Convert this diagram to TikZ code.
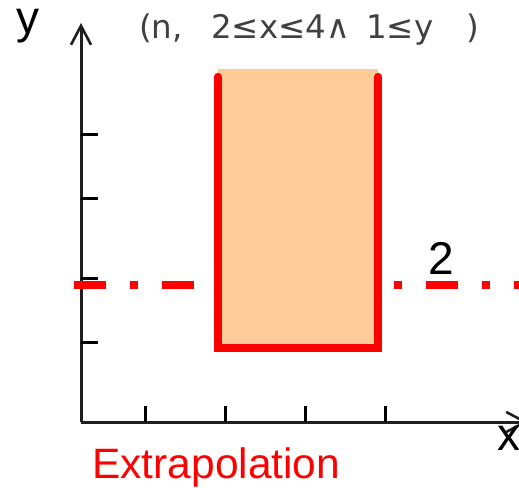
\documentclass[tikz,border=0pt]{standalone}
\usepackage{fontspec}
\setmainfont{Liberation Sans}
\newfontfamily\djv{DejaVu Sans}
\usetikzlibrary{arrows.meta}
\definecolor{peach}{RGB}{255,204,153}
\definecolor{txtgray}{RGB}{64,64,64}
\begin{document}
\begin{tikzpicture}[x=1pt,y=-1pt,
  axis/.style={line width=3pt, black!88, -{Straight Barb[length=19pt,width=20pt,line width=2.6pt]}},
  tickmark/.style={line width=3pt, black},
  redline/.style={red, line width=8pt},
  dashdotline/.style={red, line width=8pt, dash pattern=on 32pt off 24pt on 8pt off 24pt},
  lbl/.style={inner sep=0pt, anchor=base west, font=\fontsize{46}{50}\selectfont},
]
\useasboundingbox (0,0) rectangle (519,487);
\clip (0,0) rectangle (519,487);
% axes
\coordinate (O) at (81,422);
\coordinate (ytip) at (81,23);
\coordinate (xtip) at (528,422);
\draw[axis] (O) -- (ytip);
\draw[axis] (O) -- (xtip);
% ticks
\foreach \yy [count=\i] in {134,198,278,342} {
  \coordinate (ya\i) at (81,\yy);
  \coordinate (yb\i) at (98,\yy);
  \draw[tickmark] (ya\i) -- (yb\i);
}
\foreach \xx [count=\i] in {145,225,305,385} {
  \coordinate (xa\i) at (\xx,422);
  \coordinate (xb\i) at (\xx,406);
  \draw[tickmark] (xa\i) -- (xb\i);
}
% dash-dot line
\coordinate (dl) at (74,285);
\coordinate (dr) at (546,285);
\draw[dashdotline] (dl) -- (dr);
% box
\node[fill=peach, inner sep=0pt, minimum width=160pt, minimum height=279pt] (box) at (298,208.5) {};
\draw[redline, line cap=round, line join=miter]
  ([yshift=-8pt]box.north west) -- (box.south west) -- (box.south east) -- ([yshift=-8pt]box.north east);
% labels
\node[lbl] (ylab) at (16,34) {y};
\node[lbl] (xlab) at (497,450) {x};
\node[lbl] (two) at (428,274) {2};
\node[inner sep=0pt, anchor=base west, red, font=\fontsize{42.5}{46}\selectfont] (extra) at (92,478) {Extrapolation};
\node[inner sep=0pt, anchor=base west, txtgray, font=\djv\fontsize{32.5}{36}\selectfont] (formula) at (139,38)
  {\makebox[72pt][l]{(n,}\makebox[155pt][l]{2≤x≤4∧}\makebox[100pt][l]{1≤y})};
\end{tikzpicture}
\end{document}
